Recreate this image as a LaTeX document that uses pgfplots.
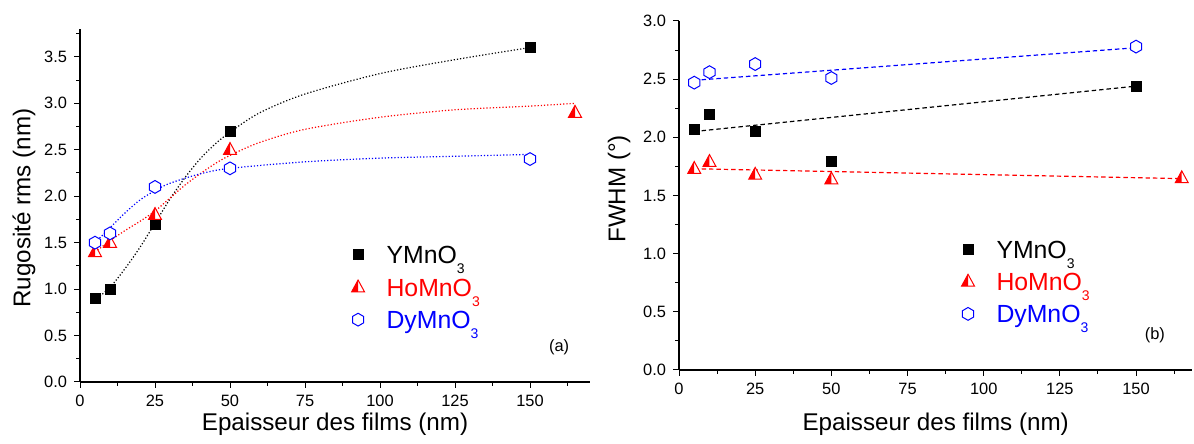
\documentclass[border=0pt]{standalone}
\usepackage{fontspec}
\setmainfont{Liberation Sans}
\usepackage{pgfplots}
\pgfplotsset{compat=1.18}

\pgfdeclareplotmark{hexa}{%
  \pgfpathmoveto{\pgfqpointpolar{90}{\pgfplotmarksize}}%
  \pgfpathlineto{\pgfqpointpolar{150}{\pgfplotmarksize}}%
  \pgfpathlineto{\pgfqpointpolar{210}{\pgfplotmarksize}}%
  \pgfpathlineto{\pgfqpointpolar{270}{\pgfplotmarksize}}%
  \pgfpathlineto{\pgfqpointpolar{330}{\pgfplotmarksize}}%
  \pgfpathlineto{\pgfqpointpolar{30}{\pgfplotmarksize}}%
  \pgfpathclose
  \pgfusepathqfillstroke
}
\pgfdeclareplotmark{halftri}{%
  \pgfsetfillcolor{white}%
  \pgfpathmoveto{\pgfqpoint{0pt}{\pgfplotmarksize}}%
  \pgfpathlineto{\pgfqpoint{-0.9\pgfplotmarksize}{-0.65\pgfplotmarksize}}%
  \pgfpathlineto{\pgfqpoint{0.9\pgfplotmarksize}{-0.65\pgfplotmarksize}}%
  \pgfpathclose
  \pgfusepathqfill
  \pgfsetfillcolor{red}%
  \pgfpathmoveto{\pgfqpoint{0pt}{\pgfplotmarksize}}%
  \pgfpathlineto{\pgfqpoint{-0.9\pgfplotmarksize}{-0.65\pgfplotmarksize}}%
  \pgfpathlineto{\pgfqpoint{0pt}{-0.65\pgfplotmarksize}}%
  \pgfpathclose
  \pgfusepathqfill
  \pgfpathmoveto{\pgfqpoint{0pt}{\pgfplotmarksize}}%
  \pgfpathlineto{\pgfqpoint{-0.9\pgfplotmarksize}{-0.65\pgfplotmarksize}}%
  \pgfpathlineto{\pgfqpoint{0.9\pgfplotmarksize}{-0.65\pgfplotmarksize}}%
  \pgfpathclose
  \pgfusepathqstroke
}

\newcommand{\sub}[1]{\smash{\raisebox{-5pt}{\fontsize{7}{8}\selectfont #1}}}

\pgfplotsset{
  myaxis/.style={
    axis x line*=bottom, axis y line*=left,
    x axis line style={-}, y axis line style={-},
    axis line style={line width=0.6pt},
    tick align=outside,
    tick style={line width=0.5pt, black},
    major tick length=3pt, minor tick length=1.8pt,
    minor tick num=1,
    scale only axis,
    clip=false,
    /pgf/number format/assume math mode=true,
    tick label style={font=\fontsize{8.2}{9}\selectfont},
    label style={font=\fontsize{12.1}{14}\selectfont},
    xtick={0,25,...,175},
    yticklabel style={/pgf/number format/.cd, fixed, fixed zerofill, precision=1},
    legend style={draw=none, fill=none, inner sep=0pt,
      font=\fontsize{12.4}{14}\selectfont,
      nodes={inner sep=0pt, text height=9pt, text depth=0pt},
      row sep=7.2pt, column sep=11pt},
    legend cell align=left,
    legend image code/.code={\draw[mark repeat=2,mark phase=2,##1] plot coordinates {(0cm,0cm) (0.3cm,0cm) (0.6cm,0cm)};},
  },
  sq/.style={only marks, mark=square*, mark size=2.5pt, black, mark options={fill=black}},
  tri/.style={only marks, mark=halftri, mark size=3.6pt, red, mark options={draw=red, line width=0.5pt}},
  hex/.style={only marks, mark=hexa, mark size=3.2pt, blue, mark options={draw=blue, fill=white, line width=0.5pt}},
}

\begin{document}
\begin{tikzpicture}
% ---------- (a) ----------
\begin{axis}[myaxis,
  at={(40pt,31pt)}, anchor=south west,
  width=255pt, height=176.5pt,
  xmin=0, xmax=170, ymin=0, ymax=3.8,
  ytick={0,0.5,...,4.0},
  xlabel={Epaisseur des films (nm)},
  ylabel={Rugosité rms (nm)},
  xlabel style={at={(rel axis cs:0.5,0)}, anchor=center, yshift=-21pt},
  ylabel style={at={(rel axis cs:0,0.493)}, anchor=center, yshift=28pt},
  legend style={at={(axis cs:90.4,1.47)}, anchor=north west},
]
\addplot[black, densely dotted, line width=0.6pt, smooth, forget plot] coordinates {
(5,0.88)(10,1.02)(15,1.22)(20,1.45)(25,1.71)(30,1.97)(35,2.2)(40,2.4)(45,2.56)(50,2.69)(60,2.9)(75,3.1)(100,3.32)(125,3.47)(150,3.6)};
\addplot[red, densely dotted, line width=0.6pt, smooth, forget plot] coordinates {
(5,1.4)(10,1.52)(15,1.63)(20,1.73)(25,1.84)(30,1.98)(35,2.12)(40,2.24)(45,2.35)(50,2.44)(60,2.58)(75,2.72)(100,2.85)(125,2.93)(150,2.97)(165,3.0)};
\addplot[blue, densely dotted, line width=0.6pt, smooth, forget plot] coordinates {
(5,1.5)(10,1.66)(15,1.82)(20,1.96)(25,2.06)(30,2.14)(40,2.24)(50,2.3)(75,2.37)(100,2.41)(125,2.43)(150,2.45)};
\addplot[sq] coordinates {(5,0.9)(10,1.0)(25,1.7)(50,2.7)(150,3.6)};
\addlegendentry{YMnO\sub{3}}
\addplot[tri] coordinates {(5,1.4)(10,1.5)(25,1.8)(50,2.5)(165,2.9)};
\addlegendentry{\textcolor{red}{HoMnO\sub{3}}}
\addplot[hex] coordinates {(5,1.5)(10,1.6)(25,2.1)(50,2.3)(150,2.4)};
\addlegendentry{\textcolor{blue}{DyMnO\sub{3}}}
\node[font=\fontsize{8.2}{9}\selectfont] at (axis cs:159.7,0.377) {(a)};
\end{axis}
% ---------- (b) ----------
\begin{axis}[myaxis,
  at={(339.5pt,37pt)}, anchor=south west,
  width=256.7pt, height=174.5pt,
  xmin=0, xmax=168.5, ymin=0, ymax=3.0,
  ytick={0,0.5,...,3.0},
  xlabel={Epaisseur des films (nm)},
  ylabel={FWHM (°)},
  xlabel style={at={(rel axis cs:0.5,0)}, anchor=center, yshift=-27pt},
  ylabel style={at={(rel axis cs:0,0.519)}, anchor=center, yshift=30pt},
  legend style={at={(axis cs:92.6,1.12)}, anchor=north west},
]
\addplot[black, dash pattern=on 2.2pt off 1.5pt, line width=0.6pt, forget plot] coordinates {(5,2.05)(150,2.44)};
\addplot[red, dash pattern=on 2.2pt off 1.5pt, line width=0.6pt, forget plot] coordinates {(5,1.73)(165,1.645)};
\addplot[blue, dash pattern=on 2.2pt off 1.5pt, line width=0.6pt, forget plot] coordinates {(5,2.49)(150,2.77)};
\addplot[sq] coordinates {(5,2.07)(10,2.2)(25,2.05)(50,1.79)(150,2.44)};
\addlegendentry{YMnO\sub{3}}
\addplot[tri] coordinates {(5,1.73)(10,1.79)(25,1.68)(50,1.64)(165,1.65)};
\addlegendentry{\textcolor{red}{HoMnO\sub{3}}}
\addplot[hex] coordinates {(5,2.47)(10,2.56)(25,2.63)(50,2.51)(150,2.78)};
\addlegendentry{\textcolor{blue}{DyMnO\sub{3}}}
\node[font=\fontsize{8.2}{9}\selectfont] at (axis cs:156.2,0.30) {(b)};
\end{axis}
\pgfresetboundingbox
\path (0,0) rectangle (597pt,222pt);
\end{tikzpicture}
\end{document}
